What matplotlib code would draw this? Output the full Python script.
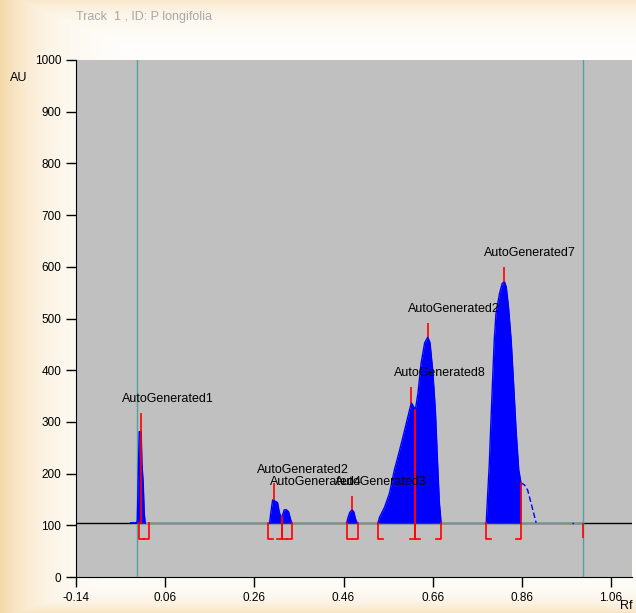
import numpy as np
import matplotlib
matplotlib.use("Agg")
import matplotlib.pyplot as plt

plt.rcParams['font.family'] = ['Liberation Sans', 'DejaVu Sans']

# Densitometre izi (Rf, AU)
peak1_rf = [-0.0175, -0.004, -0.0027, 0.0018, 0.0062, 0.0078, 0.0107, 0.013, 0.0152]
peak1_au = [105, 105, 110, 281, 281, 220, 182, 124, 104]

peak2_rf = [0.294, 0.297, 0.301, 0.306, 0.312, 0.316, 0.319, 0.322, 0.327, 0.332, 0.337, 0.341, 0.344]
peak2_au = [104, 125, 149, 147, 144, 125, 118, 116, 130, 130, 126, 112, 104]

peak3_rf = [0.467, 0.470, 0.474, 0.479, 0.483, 0.487, 0.491]
peak3_au = [104, 115, 125, 130, 126, 112, 104]

peak4_rf = [0.537, 0.541, 0.552, 0.563, 0.574, 0.586, 0.597, 0.608, 0.612, 0.615, 0.621,
            0.627, 0.634, 0.642, 0.649, 0.654, 0.660, 0.666, 0.671, 0.675, 0.679]
peak4_au = [104, 116, 135, 162, 207, 246, 284, 323, 337, 333, 323,
            356, 414, 453, 464, 453, 400, 323, 220, 143, 104]

peak5_rf = [0.780, 0.783, 0.787, 0.791, 0.795, 0.798, 0.802, 0.810, 0.816, 0.821, 0.825,
            0.830, 0.836, 0.841, 0.847, 0.853, 0.858]
peak5_au = [104, 155, 220, 310, 395, 458, 510, 549, 568, 571, 561,
            522, 458, 381, 284, 207, 182]

tail_rf = [0.858, 0.866, 0.873, 0.892]
tail_au = [182, 178, 168, 105]

dots_rf = [0.973, 0.982]
dots_au = [105, 105]

baseline = 104
front_rf = [-0.003, 0.998]

# Tepe isaretleri (kirmizi cizgiler)
marker_rf = [0.0049, 0.304, 0.480, 0.612, 0.649, 0.821]
marker_lo = [104, 149, 130, 337, 464, 571]
marker_hi = [317, 182, 157, 368, 492, 600]

# Entegrasyon sinirlari (koseli parantezler)
bracket_left = [0.0018, 0.290, 0.322, 0.467, 0.537, 0.621, 0.780]
bracket_right = [0.0229, 0.322, 0.344, 0.492, 0.621, 0.679, 0.858]
left_top = [104, 104, 116, 104, 104, 323, 104]
right_top = [104, 116, 104, 104, 323, 104, 182]
bracket_bottom = 73

# Etiketler
labels = ["AutoGenerated1", "AutoGenerated2", "AutoGenerated4", "AutoGenerated3",
          "AutoGenerated8", "AutoGenerated2", "AutoGenerated7"]
label_rf = [0.066, 0.370, 0.398, 0.543, 0.677, 0.708, 0.879]
label_au = [344, 206, 184, 184, 394, 518, 626]

x_ticks = [-0.14, 0.06, 0.26, 0.46, 0.66, 0.86, 1.06]
y_ticks = list(range(0, 1001, 100))

fig = plt.figure(figsize=(6.36, 6.13), dpi=100)

# Parsomen benzeri arka plan (kenarlarda krem rengi)
h, w = 613, 636
yy, xx = np.mgrid[0:h, 0:w]
wt = np.maximum.reduce([0.75 * np.exp(-xx / 40.0),
                        0.5 * np.exp(-(h - 1 - yy) / 14.0),
                        0.45 * np.exp(-yy / 18.0)])
edge = np.array([0.95, 0.80, 0.55])
bg = 1 - wt[..., None] * (1 - edge)
bgax = fig.add_axes([0, 0, 1, 1])
bgax.imshow(bg, aspect="auto")
bgax.axis("off")

ax = fig.add_axes([76 / 636, 36 / 613, 556 / 636, 517 / 613])
ax.set_facecolor("#c0c0c0")
ax.set_xlim(-0.14, 1.107)
ax.set_ylim(0, 1000)

teal = "#5a9e9e"
# Taban cizgisi ve cozucu cephesi
ax.axhline(baseline, color="black", lw=1, zorder=1)
ax.plot(front_rf, [baseline, baseline], color=teal, lw=1, zorder=1.5)
for f in front_rf:
    ax.axvline(f, color=teal, lw=1, zorder=1.5)

# Tepeler
for rf, au in [(peak1_rf, peak1_au), (peak2_rf, peak2_au), (peak3_rf, peak3_au),
               (peak4_rf, peak4_au), (peak5_rf, peak5_au)]:
    ax.fill_between(rf, baseline, au, color="#0000ff", lw=0, zorder=2)
    ax.plot(rf, au, color="#0000ff", lw=1, zorder=2)
ax.plot(tail_rf, tail_au, color="#0000ff", lw=1, ls=(0, (4, 2)), zorder=2)
ax.plot(dots_rf, dots_au, color="#0000ff", lw=1, ls=(0, (1, 2)), zorder=2)

# Tepe isaretleri
ax.vlines(marker_rf, marker_lo, marker_hi, color="red", lw=1.2, zorder=3)

# Parantezler
foot = 0.011
for a, b, ta, tb in zip(bracket_left, bracket_right, left_top, right_top):
    f = min(foot, (b - a) / 2)
    ax.plot([a, a, a + f], [ta, bracket_bottom, bracket_bottom], color="red", lw=1.2, zorder=3)
    ax.plot([b - f, b, b], [bracket_bottom, bracket_bottom, tb], color="red", lw=1.2, zorder=3)
ax.vlines(front_rf[1], 75, baseline, color="red", lw=1.2, zorder=3)

for t, x, y in zip(labels, label_rf, label_au):
    ax.text(x, y, t, ha="center", va="center", fontsize=9, color="black", zorder=4)

ax.set_xticks(x_ticks)
ax.set_xticklabels(["%.2f" % v for v in x_ticks])
ax.set_yticks(y_ticks)
ax.tick_params(direction="out", length=7, width=1, labelsize=8.5, colors="black")
for s in ["top", "right"]:
    ax.spines[s].set_visible(False)

fig.text(76 / 636, 1 - 17 / 613, "Track  1 , ID: P longifolia", fontsize=9,
         color="#a8a8a8", ha="left", va="center")
fig.text(10 / 636, 1 - 78 / 613, "AU", fontsize=9, ha="left", va="center")
fig.text(620 / 636, 1 - 606 / 613, "Rf", fontsize=9, ha="left", va="center")

fig.savefig("out.png", dpi=100)
